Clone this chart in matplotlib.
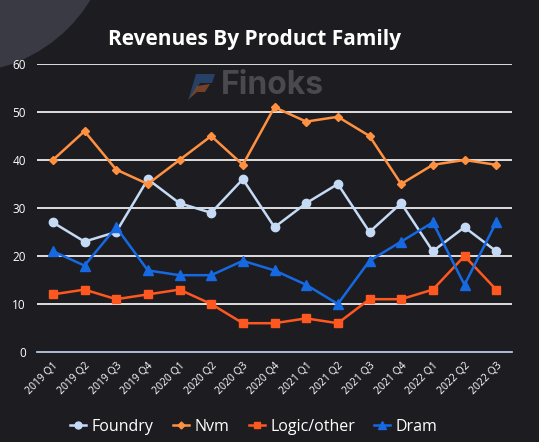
import matplotlib
matplotlib.use("Agg")
import matplotlib.pyplot as plt
from matplotlib.patches import Circle, Polygon
from matplotlib.lines import Line2D

categories = ["2019 Q1", "2019 Q2", "2019 Q3", "2019 Q4", "2020 Q1", "2020 Q2", "2020 Q3", "2020 Q4",
              "2021 Q1", "2021 Q2", "2021 Q3", "2021 Q4", "2022 Q1", "2022 Q2", "2022 Q3"]
foundry = [27, 23, 25, 36, 31, 29, 36, 26, 31, 35, 25, 31, 21, 26, 21]
nvm = [40, 46, 38, 35, 40, 45, 39, 51, 48, 49, 45, 35, 39, 40, 39]
logic = [12, 13, 11, 12, 13, 10, 6, 6, 7, 6, 11, 11, 13, 20, 13]
dram = [21, 18, 26, 17, 16, 16, 19, 17, 14, 10, 19, 23, 27, 14, 27]
yticks = [0, 10, 20, 30, 40, 50, 60]

plt.rcParams['font.family'] = ['Open Sans', 'DejaVu Sans']

W, H = 539, 442
fig = plt.figure(figsize=(W / 100, H / 100), dpi=100)
fig.patch.set_facecolor('#1d1d21')

# background decoration
bg = fig.add_axes([0, 0, 1, 1], zorder=-10)
bg.set_xlim(0, W)
bg.set_ylim(H, 0)
bg.axis('off')
bg.add_patch(Circle((-40, -80), 153, color='#3a3a45', lw=0))
# watermark logo
bg.add_patch(Polygon([[188, 101], [196, 74], [215, 74], [212, 83], [200, 83]], closed=True,
                     color='#2a4a78', alpha=0.8, lw=0))
bg.add_patch(Polygon([[189, 99], [197, 86], [210, 84], [205, 92], [197, 92]], closed=True,
                     color='#8a4a2a', alpha=0.8, lw=0))
bg.text(221, 86, "Finoks", color='#4a4a4e', fontsize=23, fontweight='bold',
        family=['Inter', 'DejaVu Sans'], va='center', ha='left')

ax = fig.add_axes([37 / W, 1 - 352 / H, (512 - 37) / W, (352 - 64) / H])
ax.set_facecolor('none')
x = list(range(len(categories)))

ax.plot(x, foundry, color='#c5daf5', marker='o', ms=6, lw=1.8, label='Foundry', zorder=3)
ax.plot(x, nvm, color='#ff9140', marker='D', ms=4, lw=1.8, label='Nvm', zorder=3)
ax.plot(x, logic, color='#ff5720', marker='s', ms=5.5, lw=1.8, label='Logic/other', zorder=3)
ax.plot(x, dram, color='#1669e0', marker='^', ms=6.5, lw=1.8, label='Dram', zorder=3)

ax.set_xlim(-0.5, len(categories) - 0.5)
ax.set_ylim(0, 60)
ax.set_yticks(yticks)
ax.set_yticklabels([str(v) for v in yticks], color='white', fontsize=8.5)
ax.set_xticks(x)
ax.set_xticklabels(categories, rotation=45, ha='right', rotation_mode='anchor',
                   color='white', fontsize=7.5)
ax.tick_params(axis='both', length=0, pad=8)
ax.tick_params(axis='x', pad=6)
for v in yticks[1:]:
    ax.axhline(v, color='white', lw=1.2, zorder=1)
for s in ['top', 'right', 'left']:
    ax.spines[s].set_visible(False)
ax.spines['bottom'].set_color('#c5daf5')
ax.spines['bottom'].set_linewidth(1.2)

fig.text(254 / W, 1 - 40 / H, "Revenues By Product Family", color='white', fontsize=15,
         fontweight='bold', ha='center', va='center')

handles = [Line2D([], [], color='#c5daf5', marker='o', ms=5, lw=1.8),
           Line2D([], [], color='#ff9140', marker='D', ms=3.5, lw=1.8),
           Line2D([], [], color='#ff5720', marker='s', ms=5, lw=1.8),
           Line2D([], [], color='#1669e0', marker='^', ms=5.5, lw=1.8)]
leg = fig.legend(handles, ['Foundry', 'Nvm', 'Logic/other', 'Dram'], loc='center',
                 bbox_to_anchor=(254 / W, 1 - 427 / H), ncol=4, frameon=False,
                 fontsize=11.5, labelcolor='white', handlelength=1.0, handletextpad=0.35,
                 columnspacing=1.2)

fig.savefig('out.png', dpi=100, facecolor=fig.get_facecolor())
